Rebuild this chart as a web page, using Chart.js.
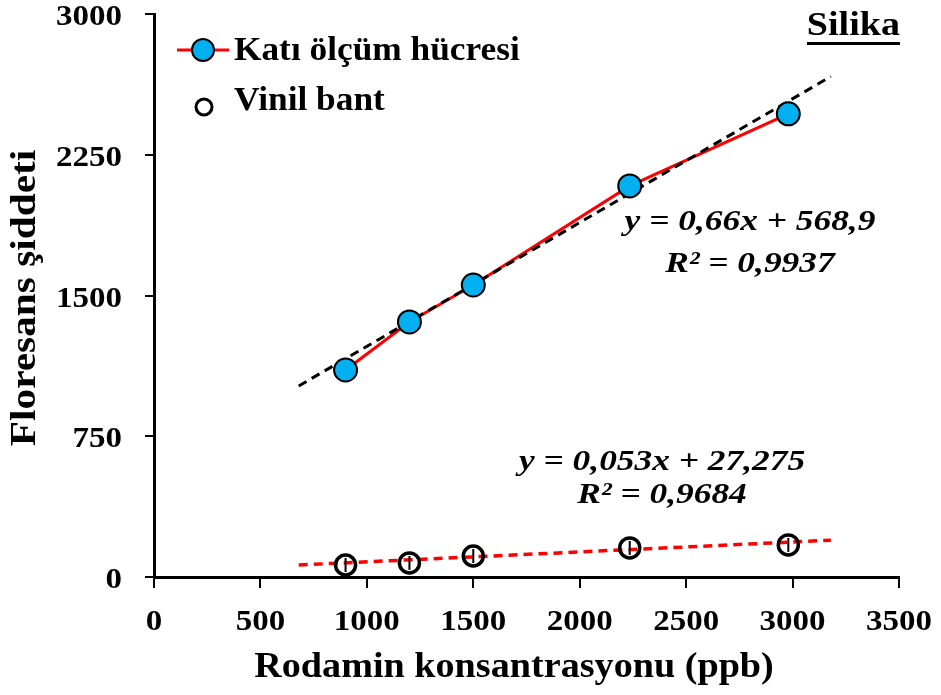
<!DOCTYPE html>
<html>
<head>
<meta charset="utf-8">
<script src="https://cdn.jsdelivr.net/npm/chart.js@4"></script>
<style>
  html, body { margin: 0; padding: 0; background: #fff; }
  #wrap { width: 941px; height: 695px; }
</style>
</head>
<body>
<div id="wrap"><canvas id="myChart" width="941" height="695"></canvas></div>
<script>
// values
const concentrations = [900, 1200, 1500, 2235, 2980];
const solidCell = [1103, 1359, 1556, 2084, 2468];
const vinylTape = [64, 75, 112, 155, 171];
const trendX = [680, 3180];
const solidTrend = [1018, 2667];
const vinylTrend = [64, 196];
const xTicks = [0, 500, 1000, 1500, 2000, 2500, 3000, 3500];
const yTicks = [0, 750, 1500, 2250, 3000];

const serif = '"Liberation Serif", "Times New Roman", serif';

const pts = (xs, ys) => xs.map((x, i) => ({ x: x, y: ys[i] }));

// text in the picture is a bit wider than the font, so stretch it
function drawText(ctx, text, x, y, font, sx, align) {
  ctx.save();
  ctx.translate(x, y);
  ctx.scale(sx, 1);
  ctx.font = font;
  ctx.textAlign = align || 'left';
  ctx.textBaseline = 'alphabetic';
  ctx.fillText(text, 0, 0);
  ctx.restore();
}

// legend, tick labels, equations, axis titles drawn by hand
const extras = {
  id: 'extras',
  afterDraw(chart) {
    const ctx = chart.ctx;
    const xs = chart.scales.x, ys = chart.scales.y;
    ctx.save();

    // legend
    ctx.strokeStyle = '#ff0000';
    ctx.lineWidth = 3;
    ctx.beginPath();
    ctx.moveTo(177, 50);
    ctx.lineTo(229, 50);
    ctx.stroke();
    ctx.beginPath();
    ctx.arc(203, 50, 11, 0, Math.PI * 2);
    ctx.fillStyle = '#00b0f0';
    ctx.fill();
    ctx.strokeStyle = '#000';
    ctx.lineWidth = 2;
    ctx.stroke();
    ctx.beginPath();
    ctx.arc(204, 107, 8, 0, Math.PI * 2);
    ctx.fillStyle = '#fff';
    ctx.fill();
    ctx.lineWidth = 3;
    ctx.stroke();

    ctx.fillStyle = '#000';
    const bold = (s) => 'bold ' + s + 'px ' + serif;
    drawText(ctx, 'Katı ölçüm hücresi', 234, 60, bold(33), 1.07);
    drawText(ctx, 'Vinil bant', 234, 110, bold(33), 1.07);

    // title
    drawText(ctx, 'Silika', 900, 35, bold(34), 1.12, 'right');
    ctx.fillRect(807, 42, 93, 3);

    // tick labels
    yTicks.forEach(v => {
      drawText(ctx, String(v), 122, ys.getPixelForValue(v) + 11, bold(30), 1.1, 'right');
    });
    xTicks.forEach(v => {
      drawText(ctx, String(v), xs.getPixelForValue(v), 630, bold(30), 1.1, 'center');
    });

    // equations
    const ital = (s) => 'italic bold ' + s + 'px ' + serif;
    drawText(ctx, 'y = 0,66x + 568,9', xs.getPixelForValue(2800), ys.getPixelForValue(1849), ital(30), 1.18, 'center');
    drawText(ctx, 'R² = 0,9937', xs.getPixelForValue(2800), ys.getPixelForValue(1626), ital(30), 1.18, 'center');
    drawText(ctx, 'y = 0,053x + 27,275', xs.getPixelForValue(2387), ys.getPixelForValue(570), ital(30), 1.18, 'center');
    drawText(ctx, 'R² = 0,9684', xs.getPixelForValue(2387), ys.getPixelForValue(394), ital(30), 1.18, 'center');

    // axis titles
    drawText(ctx, 'Rodamin konsantrasyonu (ppb)', 514, 677, bold(36), 1.06, 'center');
    ctx.translate(35, 298);
    ctx.rotate(-Math.PI / 2);
    drawText(ctx, 'Floresans şiddeti', 0, 0, bold(35), 1.18, 'center');
    ctx.restore();
  }
};

const ctx = document.getElementById('myChart').getContext('2d');
new Chart(ctx, {
  type: 'scatter',
  data: {
    datasets: [
      {
        label: 'Katı ölçüm hücresi (çizgi)',
        data: pts(concentrations, solidCell),
        showLine: true,
        borderColor: '#ff0000',
        borderWidth: 3,
        pointRadius: 0,
        order: 4
      },
      {
        label: 'trend 1',
        data: pts(trendX, solidTrend),
        showLine: true,
        borderColor: '#000',
        borderWidth: 3,
        borderDash: [9, 6],
        pointRadius: 0,
        order: 3
      },
      {
        label: 'trend 2',
        data: pts(trendX, vinylTrend),
        showLine: true,
        borderColor: '#ff0000',
        borderWidth: 3.5,
        borderDash: [9, 6],
        pointRadius: 0,
        order: 3
      },
      {
        label: 'Katı ölçüm hücresi',
        data: pts(concentrations, solidCell),
        backgroundColor: '#00b0f0',
        borderColor: '#000',
        borderWidth: 2,
        pointRadius: 11.5,
        order: 1
      },
      {
        label: 'Vinil bant',
        data: pts(concentrations, vinylTape),
        backgroundColor: 'rgba(255,255,255,0)',
        borderColor: '#000',
        borderWidth: 3.5,
        pointRadius: 10,
        order: 2
      },
      {
        label: 'Vinil bant hata',
        data: pts(concentrations, vinylTape),
        pointStyle: 'line',
        rotation: 90,
        borderColor: '#000',
        borderWidth: 2,
        pointRadius: 7,
        order: 1
      }
    ]
  },
  options: {
    responsive: false,
    animation: false,
    layout: { padding: { top: 14, right: 42, left: 0, bottom: 0 } },
    plugins: {
      legend: { display: false },
      tooltip: { enabled: false }
    },
    scales: {
      x: {
        type: 'linear',
        min: 0,
        max: 3500,
        afterBuildTicks: (s) => { s.ticks = xTicks.map(v => ({ value: v })); },
        afterFit: (s) => { s.height = 118; },
        border: { display: true, color: '#000', width: 3 },
        grid: { display: true, drawOnChartArea: false, drawTicks: true, tickLength: 11, color: '#000', lineWidth: 2 },
        ticks: { display: false }
      },
      y: {
        type: 'linear',
        min: 0,
        max: 3000,
        afterBuildTicks: (s) => { s.ticks = yTicks.map(v => ({ value: v })); },
        afterFit: (s) => { s.width = 154; },
        border: { display: true, color: '#000', width: 3 },
        grid: { display: true, drawOnChartArea: false, drawTicks: true, tickLength: 9, color: '#000', lineWidth: 2 },
        ticks: { display: false }
      }
    }
  },
  plugins: [extras]
});
</script>
</body>
</html>
